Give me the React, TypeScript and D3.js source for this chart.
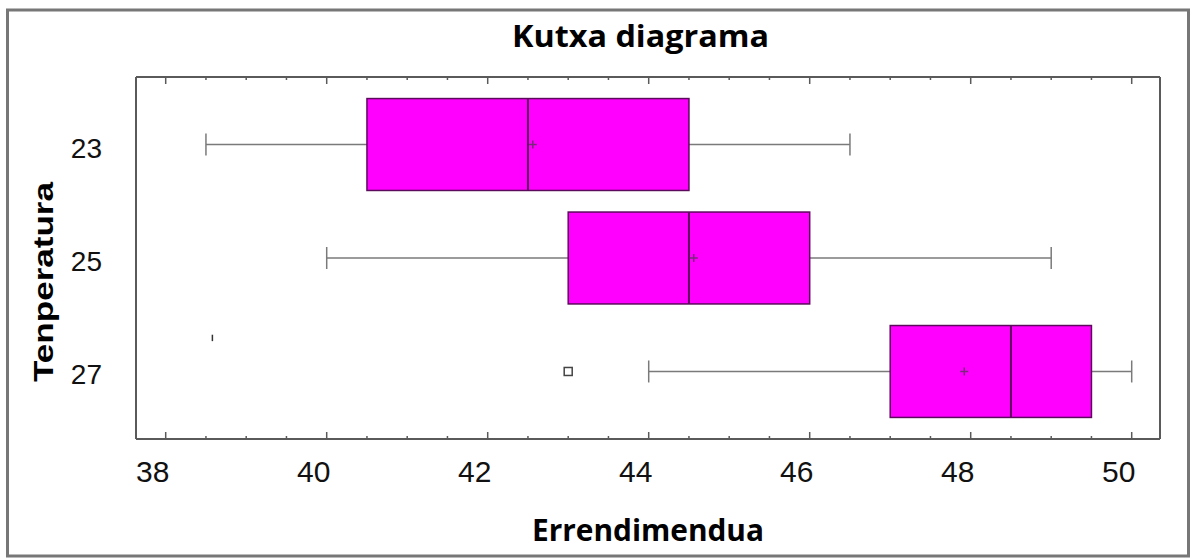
import React from "react";
import * as d3 from "d3";

// ---- data ----
const categories = ["23", "25", "27"];
const whiskerMin = [38.5, 40.0, 44.0];
const q1 = [40.5, 43.0, 47.0];
const median = [42.5, 44.5, 48.5];
const mean = [42.56, 44.56, 47.92];
const q3 = [44.5, 46.0, 49.5];
const whiskerMax = [46.5, 49.0, 50.0];
const outlierCats = ["27"];
const outlierValues = [43.0];
const strayCats = ["27"];
const strayValues = [38.58];
const xTickValues = [38, 40, 42, 44, 46, 48, 50];
const title = "Kutxa diagrama";
const xTitle = "Errendimendua";
const yTitle = "Tenperatura";

const W = 1196;
const H = 559;
const plotLeft = 136;
const plotRight = 1160;
const plotTop = 77;
const plotBottom = 439;

export default function App() {
  const x = d3.scaleLinear().domain([38, 50]).range([165.7, 1131.7]);
  const y = d3
    .scaleBand<string>()
    .domain(categories)
    .range([plotTop, plotBottom])
    .paddingInner(0.19)
    .paddingOuter(0.19);
  const bw = y.bandwidth();
  const cy = (c: string) => (y(c) as number) + bw / 2;

  const minorTicks = d3.range(37.5, 50.51, 0.5).filter((v) => x(v) > plotLeft + 1 && x(v) < plotRight - 1);
  const isMajor = (v: number) => Math.abs(v / 2 - Math.round(v / 2)) < 1e-6;

  const whiskerColor = "#7a7a7a";
  const boxStroke = "#5c0a5c";
  const axisColor = "#5a5a5a";
  const capHalf = 11;

  return (
    <svg
      width={W}
      height={H}
      style={{ position: "absolute", left: 0, top: 0, background: "#fff" }}
    >
      {/* outer frame */}
      <rect x={7.5} y={10} width={1181} height={546} fill="#fff" stroke="#777" strokeWidth={3} />

      {/* title */}
      <text
        x={640.5}
        y={47}
        textAnchor="middle"
        fontFamily="'Open Sans', sans-serif"
        fontWeight={700}
        fontSize={30}
        textLength={257}
        lengthAdjust="spacingAndGlyphs"
        fill="#000"
      >
        {title}
      </text>

      {/* whiskers */}
      {categories.map((c, i) => (
        <g key={"w" + c} stroke={whiskerColor} strokeWidth={1.5}>
          <line x1={x(whiskerMin[i])} x2={x(q1[i])} y1={cy(c)} y2={cy(c)} />
          <line x1={x(q3[i])} x2={x(whiskerMax[i])} y1={cy(c)} y2={cy(c)} />
          <line x1={x(whiskerMin[i])} x2={x(whiskerMin[i])} y1={cy(c) - capHalf} y2={cy(c) + capHalf} />
          <line x1={x(whiskerMax[i])} x2={x(whiskerMax[i])} y1={cy(c) - capHalf} y2={cy(c) + capHalf} />
        </g>
      ))}

      {/* boxes */}
      {categories.map((c, i) => (
        <g key={"b" + c}>
          <rect
            x={x(q1[i])}
            y={y(c) as number}
            width={x(q3[i]) - x(q1[i])}
            height={bw}
            fill="#ff00ff"
            stroke={boxStroke}
            strokeWidth={1.5}
          />
          <line
            x1={x(median[i])}
            x2={x(median[i])}
            y1={y(c) as number}
            y2={(y(c) as number) + bw}
            stroke={boxStroke}
            strokeWidth={2}
          />
          <g stroke="#7a2a7a" strokeWidth={1.5}>
            <line x1={x(mean[i]) - 4} x2={x(mean[i]) + 4} y1={cy(c)} y2={cy(c)} />
            <line x1={x(mean[i])} x2={x(mean[i])} y1={cy(c) - 4} y2={cy(c) + 4} />
          </g>
        </g>
      ))}

      {/* outliers */}
      {outlierValues.map((v, i) => (
        <rect
          key={"o" + i}
          x={x(v) - 4}
          y={cy(outlierCats[i]) - 4}
          width={8}
          height={8}
          fill="#fff"
          stroke="#444"
          strokeWidth={1.5}
        />
      ))}
      {strayValues.map((v, i) => (
        <line
          key={"s" + i}
          x1={x(v)}
          x2={x(v)}
          y1={cy(strayCats[i]) - bw * 0.4}
          y2={cy(strayCats[i]) - bw * 0.33}
          stroke="#333"
          strokeWidth={1.5}
        />
      ))}

      {/* axes frame */}
      <g stroke={axisColor} strokeWidth={2} fill="none">
        <line x1={plotLeft} x2={plotRight} y1={plotTop} y2={plotTop} />
        <line x1={plotLeft} x2={plotRight} y1={plotBottom} y2={plotBottom} />
        <line x1={plotLeft} x2={plotLeft} y1={plotTop} y2={plotBottom} />
        <line x1={plotRight} x2={plotRight} y1={plotTop} y2={plotBottom} />
      </g>

      {/* ticks */}
      <g stroke={axisColor} strokeWidth={1.5}>
        {minorTicks.map((v) => {
          const len = isMajor(v) ? 7 : 3;
          return (
            <g key={"t" + v}>
              <line x1={x(v)} x2={x(v)} y1={plotBottom} y2={plotBottom - len} />
              <line x1={x(v)} x2={x(v)} y1={plotTop} y2={plotTop + len} />
            </g>
          );
        })}
      </g>

      {/* x tick labels */}
      {xTickValues.map((v) => (
        <text
          key={"xl" + v}
          x={x(v) - 13}
          y={plotBottom + 43}
          textAnchor="middle"
          fontFamily="'Liberation Sans', Arial, sans-serif"
          fontSize={30}
          fill="#111"
        >
          {v}
        </text>
      ))}

      {/* y tick labels */}
      {categories.map((c) => (
        <text
          key={"yl" + c}
          x={102}
          y={cy(c)}
          dy={13}
          textAnchor="end"
          fontFamily="'Liberation Sans', Arial, sans-serif"
          fontSize={28}
          fill="#111"
        >
          {c}
        </text>
      ))}

      {/* x title */}
      <text
        x={648}
        y={541}
        textAnchor="middle"
        fontFamily="'Open Sans', sans-serif"
        fontWeight={700}
        fontSize={30}
        textLength={232}
        lengthAdjust="spacingAndGlyphs"
        fill="#000"
      >
        {xTitle}
      </text>

      {/* y title */}
      <text
        transform={`translate(53,${(plotTop + plotBottom) / 2 + 24}) rotate(-90)`}
        textAnchor="middle"
        fontFamily="'Liberation Sans', Arial, sans-serif"
        fontWeight={700}
        fontSize={28}
        textLength={200}
        lengthAdjust="spacingAndGlyphs"
        fill="#000"
      >
        {yTitle}
      </text>
    </svg>
  );
}
